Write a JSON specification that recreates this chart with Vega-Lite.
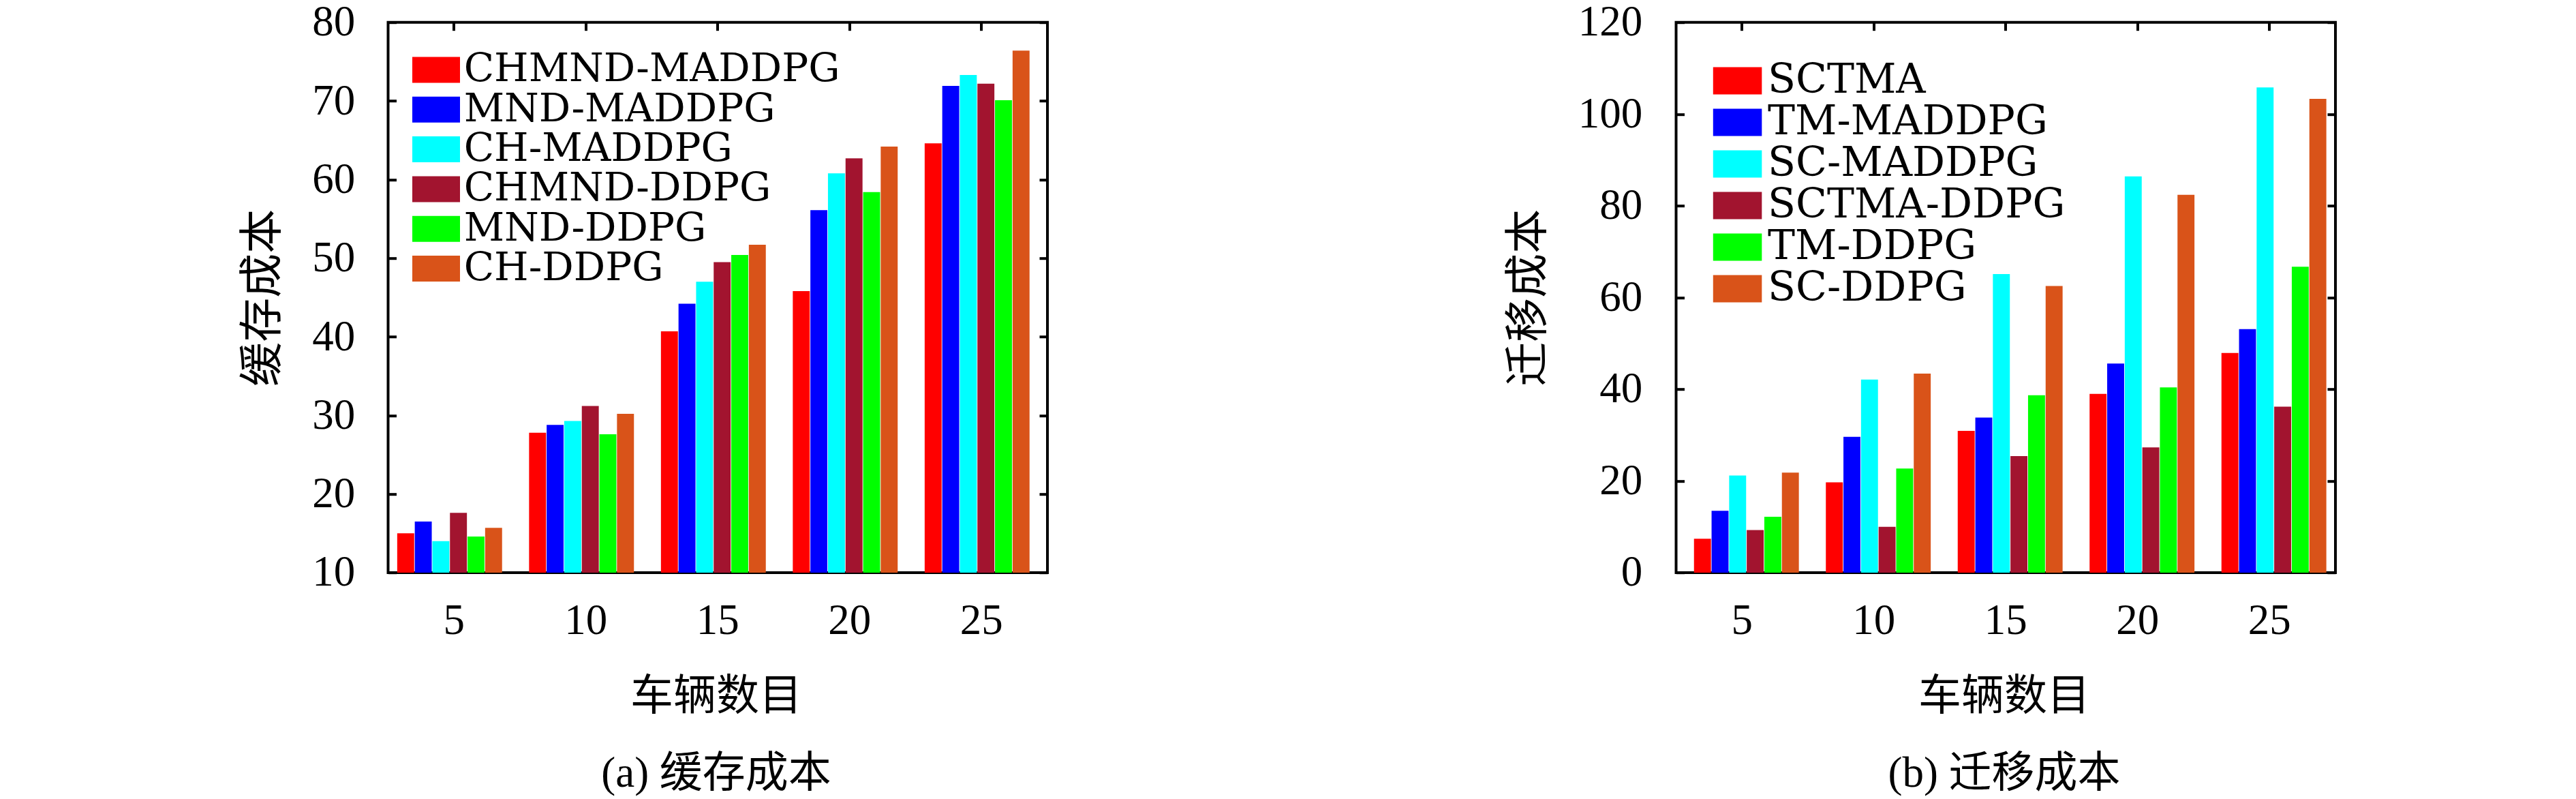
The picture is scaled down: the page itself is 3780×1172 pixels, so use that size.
{
  "$schema": "https://vega.github.io/schema/vega-lite/v6.json",
  "autosize": "none",
  "padding": {"left": 569.5, "top": 32.7, "right": 3210.5, "bottom": 1139.3},
  "background": "white",
  "bounds": "flush",
  "spacing": 922,
  "config": {
    "view": {"stroke": "black", "strokeWidth": 4},
    "axis": {
      "grid": false,
      "domain": false,
      "tickColor": "black",
      "tickWidth": 4,
      "tickSize": -12,
      "labelFont": "Liberation Serif",
      "labelFontSize": 63,
      "labelColor": "black",
      "titleFont": "Liberation Serif, Noto Sans CJK SC",
      "titleFontWeight": "normal",
      "titleColor": "black"
    },
    "legend": {
      "orient": "none",
      "title": null,
      "padding": 0,
      "labelFont": "DejaVu Serif",
      "labelColor": "black",
      "labelLimit": 2000,
      "symbolStrokeWidth": 0,
      "symbolOpacity": 1
    }
  },
  "datasets": {
    "cache": [
      {"n": 5, "method": "CHMND-MADDPG", "v": 15.0},
      {"n": 5, "method": "MND-MADDPG", "v": 16.5},
      {"n": 5, "method": "CH-MADDPG", "v": 14.0},
      {"n": 5, "method": "CHMND-DDPG", "v": 17.6},
      {"n": 5, "method": "MND-DDPG", "v": 14.6},
      {"n": 5, "method": "CH-DDPG", "v": 15.7},
      {"n": 10, "method": "CHMND-MADDPG", "v": 27.8},
      {"n": 10, "method": "MND-MADDPG", "v": 28.8},
      {"n": 10, "method": "CH-MADDPG", "v": 29.3},
      {"n": 10, "method": "CHMND-DDPG", "v": 31.2},
      {"n": 10, "method": "MND-DDPG", "v": 27.6},
      {"n": 10, "method": "CH-DDPG", "v": 30.2},
      {"n": 15, "method": "CHMND-MADDPG", "v": 40.7},
      {"n": 15, "method": "MND-MADDPG", "v": 44.2},
      {"n": 15, "method": "CH-MADDPG", "v": 47.0},
      {"n": 15, "method": "CHMND-DDPG", "v": 49.5},
      {"n": 15, "method": "MND-DDPG", "v": 50.4},
      {"n": 15, "method": "CH-DDPG", "v": 51.7},
      {"n": 20, "method": "CHMND-MADDPG", "v": 45.8},
      {"n": 20, "method": "MND-MADDPG", "v": 56.1},
      {"n": 20, "method": "CH-MADDPG", "v": 60.8},
      {"n": 20, "method": "CHMND-DDPG", "v": 62.7},
      {"n": 20, "method": "MND-DDPG", "v": 58.4},
      {"n": 20, "method": "CH-DDPG", "v": 64.2},
      {"n": 25, "method": "CHMND-MADDPG", "v": 64.6},
      {"n": 25, "method": "MND-MADDPG", "v": 71.9},
      {"n": 25, "method": "CH-MADDPG", "v": 73.3},
      {"n": 25, "method": "CHMND-DDPG", "v": 72.2},
      {"n": 25, "method": "MND-DDPG", "v": 70.1},
      {"n": 25, "method": "CH-DDPG", "v": 76.4}
    ],
    "migr": [
      {"n": 5, "method": "SCTMA", "v": 7.4},
      {"n": 5, "method": "TM-MADDPG", "v": 13.5},
      {"n": 5, "method": "SC-MADDPG", "v": 21.2},
      {"n": 5, "method": "SCTMA-DDPG", "v": 9.3},
      {"n": 5, "method": "TM-DDPG", "v": 12.2},
      {"n": 5, "method": "SC-DDPG", "v": 21.8},
      {"n": 10, "method": "SCTMA", "v": 19.7},
      {"n": 10, "method": "TM-MADDPG", "v": 29.6},
      {"n": 10, "method": "SC-MADDPG", "v": 42.1},
      {"n": 10, "method": "SCTMA-DDPG", "v": 10.0},
      {"n": 10, "method": "TM-DDPG", "v": 22.7},
      {"n": 10, "method": "SC-DDPG", "v": 43.4},
      {"n": 15, "method": "SCTMA", "v": 30.9},
      {"n": 15, "method": "TM-MADDPG", "v": 33.8},
      {"n": 15, "method": "SC-MADDPG", "v": 65.1},
      {"n": 15, "method": "SCTMA-DDPG", "v": 25.4},
      {"n": 15, "method": "TM-DDPG", "v": 38.7},
      {"n": 15, "method": "SC-DDPG", "v": 62.5},
      {"n": 20, "method": "SCTMA", "v": 39.0},
      {"n": 20, "method": "TM-MADDPG", "v": 45.6},
      {"n": 20, "method": "SC-MADDPG", "v": 86.4},
      {"n": 20, "method": "SCTMA-DDPG", "v": 27.3},
      {"n": 20, "method": "TM-DDPG", "v": 40.4},
      {"n": 20, "method": "SC-DDPG", "v": 82.4},
      {"n": 25, "method": "SCTMA", "v": 47.9},
      {"n": 25, "method": "TM-MADDPG", "v": 53.1},
      {"n": 25, "method": "SC-MADDPG", "v": 105.8},
      {"n": 25, "method": "SCTMA-DDPG", "v": 36.2},
      {"n": 25, "method": "TM-DDPG", "v": 66.7},
      {"n": 25, "method": "SC-DDPG", "v": 103.3}
    ]
  },
  "resolve": {"scale": {"color": "independent", "y": "independent"}},
  "hconcat": [
    {
      "width": 967.5,
      "height": 807.3,
      "data": {"name": "cache"},
      "layer": [
        {
          "mark": {"type": "bar", "size": 24.9},
          "encoding": {
            "x": {
              "field": "n", "type": "ordinal",
              "scale": {"type": "band", "paddingInner": 0.2, "paddingOuter": 0.1},
              "axis": {
                "orient": "bottom", "labelAngle": 0, "labelPadding": 83, "labelBaseline": "middle",
                "title": ["车辆数目", "(a) 缓存成本"],
                "titleFontSize": 63, "titleLineHeight": 113, "titleBaseline": "alphabetic",
                "titleAlign": "center", "titleX": 481, "titleY": 201
              }
            },
            "xOffset": {
              "field": "method", "type": "nominal",
              "sort": ["CHMND-MADDPG", "MND-MADDPG", "CH-MADDPG", "CHMND-DDPG", "MND-DDPG", "CH-DDPG"],
              "scale": {"type": "band", "paddingInner": 0, "paddingOuter": 0}
            },
            "y": {
              "field": "v", "type": "quantitative",
              "scale": {"domain": [10, 80], "nice": false, "zero": false},
              "axis": {
                "values": [10, 20, 30, 40, 50, 60, 70, 80], "labelPadding": 60.8,
                "title": "缓存成本", "titleFontSize": 65, "titleAngle": -90,
                "titleBaseline": "middle", "titleAlign": "center", "titleX": -184.5, "titleY": 403.6
              }
            },
            "y2": {"datum": 10},
            "color": {
              "field": "method", "type": "nominal",
              "sort": ["CHMND-MADDPG", "MND-MADDPG", "CH-MADDPG", "CHMND-DDPG", "MND-DDPG", "CH-DDPG"],
              "scale": {
                "domain": ["CHMND-MADDPG", "MND-MADDPG", "CH-MADDPG", "CHMND-DDPG", "MND-DDPG", "CH-DDPG"],
                "range": ["#FF0000", "#0000FF", "#00FFFF", "#A2142F", "#00FF00", "#D95319"]
              },
              "legend": {
                "legendX": 35.5, "legendY": 40.8,
                "symbolType": "M-1.207,-0.655H1.207V0.655H-1.207Z", "symbolSize": 3364,
                "symbolOffset": 6, "labelOffset": 11.7, "labelFontSize": 58, "rowPadding": 0.3
              }
            }
          }
        },
        {
          "mark": {"type": "rule", "opacity": 0},
          "encoding": {
            "x": {"field": "n", "type": "ordinal", "axis": {"orient": "top", "labels": false, "title": null}},
            "y": {"field": "v", "type": "quantitative", "axis": {"orient": "right", "labels": false, "title": null, "values": [10, 20, 30, 40, 50, 60, 70, 80]}}
          }
        }
      ],
      "resolve": {"axis": {"x": "independent", "y": "independent"}}
    },
    {
      "width": 967.5,
      "height": 807.3,
      "data": {"name": "migr"},
      "layer": [
        {
          "mark": {"type": "bar", "size": 24.9},
          "encoding": {
            "x": {
              "field": "n", "type": "ordinal",
              "scale": {"type": "band", "paddingInner": 0.2, "paddingOuter": 0.1},
              "axis": {
                "orient": "bottom", "labelAngle": 0, "labelPadding": 83, "labelBaseline": "middle",
                "title": ["车辆数目", "(b) 迁移成本"],
                "titleFontSize": 63, "titleLineHeight": 113, "titleBaseline": "alphabetic",
                "titleAlign": "center", "titleX": 481, "titleY": 201
              }
            },
            "xOffset": {
              "field": "method", "type": "nominal",
              "sort": ["SCTMA", "TM-MADDPG", "SC-MADDPG", "SCTMA-DDPG", "TM-DDPG", "SC-DDPG"],
              "scale": {"type": "band", "paddingInner": 0, "paddingOuter": 0}
            },
            "y": {
              "field": "v", "type": "quantitative",
              "scale": {"domain": [0, 120], "nice": false},
              "axis": {
                "values": [0, 20, 40, 60, 80, 100, 120], "labelPadding": 61.7,
                "title": "迁移成本", "titleFontSize": 65, "titleAngle": -90,
                "titleBaseline": "middle", "titleAlign": "center", "titleX": -216.5, "titleY": 403.6
              }
            },
            "color": {
              "field": "method", "type": "nominal",
              "sort": ["SCTMA", "TM-MADDPG", "SC-MADDPG", "SCTMA-DDPG", "TM-DDPG", "SC-DDPG"],
              "scale": {
                "domain": ["SCTMA", "TM-MADDPG", "SC-MADDPG", "SCTMA-DDPG", "TM-DDPG", "SC-DDPG"],
                "range": ["#FF0000", "#0000FF", "#00FFFF", "#A2142F", "#00FF00", "#D95319"]
              },
              "legend": {
                "legendX": 54.3, "legendY": 55.8,
                "symbolType": "M-1.192,-0.667H1.192V0.667H-1.192Z", "symbolSize": 3600,
                "symbolOffset": 5.75, "labelOffset": 14.4, "labelFontSize": 60, "rowPadding": 1
              }
            }
          }
        },
        {
          "mark": {"type": "rule", "opacity": 0},
          "encoding": {
            "x": {"field": "n", "type": "ordinal", "axis": {"orient": "top", "labels": false, "title": null}},
            "y": {"field": "v", "type": "quantitative", "axis": {"orient": "right", "labels": false, "title": null, "values": [0, 20, 40, 60, 80, 100, 120]}}
          }
        }
      ],
      "resolve": {"axis": {"x": "independent", "y": "independent"}}
    }
  ]
}
